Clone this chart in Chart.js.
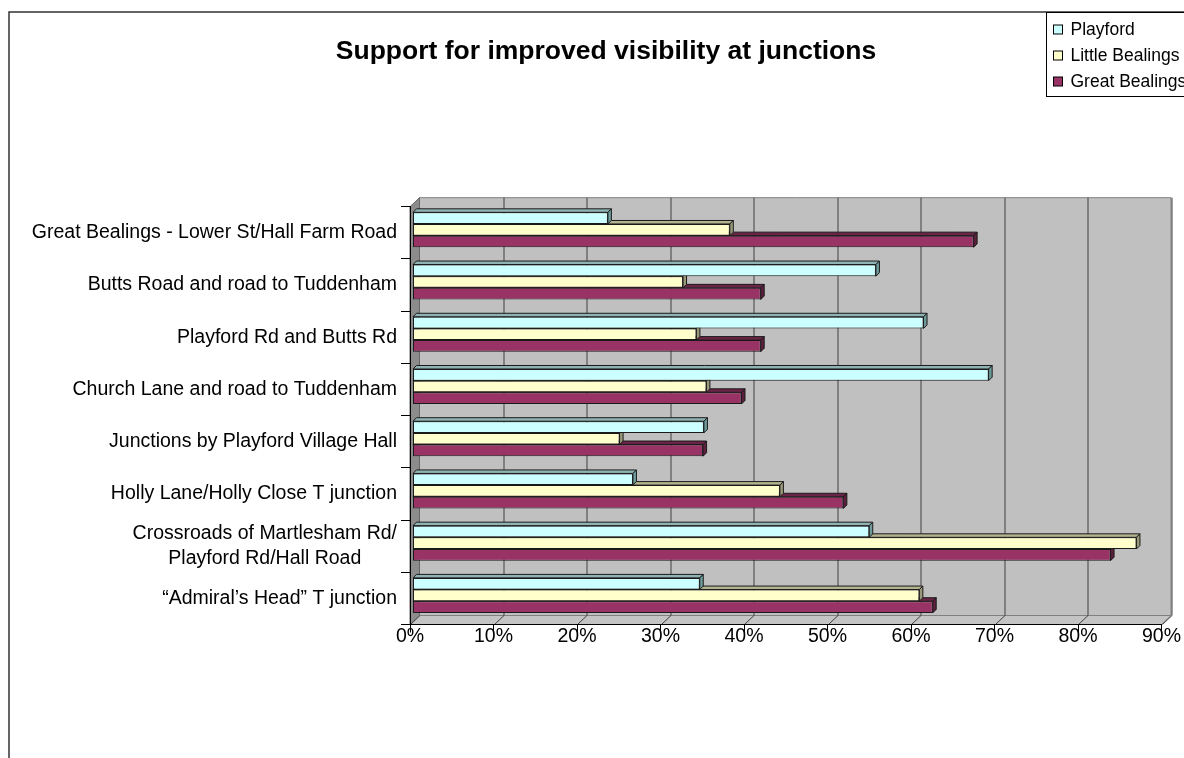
<!DOCTYPE html>
<html>
<head>
<meta charset="utf-8">
<title>Support for improved visibility at junctions</title>
<script src="https://cdn.jsdelivr.net/npm/chart.js@4.4.0/dist/chart.umd.min.js"></script>
<style>
  html, body { margin: 0; padding: 0; background: #fff; }
  #wrap { width: 1184px; height: 758px; }
</style>
</head>
<body>
<div id="wrap"><canvas id="junctions" width="1184" height="758"></canvas></div>
<script>
const junctions = [
  "Great Bealings - Lower St/Hall Farm Road",
  "Butts Road and road to Tuddenham",
  "Playford Rd and Butts Rd",
  "Church Lane and road to Tuddenham",
  "Junctions by Playford Village Hall",
  "Holly Lane/Holly Close T junction",
  ["Crossroads of Martlesham Rd/", "Playford Rd/Hall Road"],
  "\u201CAdmiral\u2019s Head\u201D T junction"
];
const playford       = [23.4, 55.5, 61.2, 69.0, 34.9, 26.4, 54.7, 34.4];
const littleBealings = [38.0, 32.4, 34.0, 35.2, 24.8, 44.0, 86.7, 60.7];
const greatBealings  = [67.2, 41.7, 41.7, 39.4, 34.8, 51.6, 83.6, 62.3];
const percentTicks   = [0, 10, 20, 30, 40, 50, 60, 70, 80, 90];

const FONT = "'Liberation Sans', Arial, sans-serif";

// depth of the 3-D box and of the bars
const WALL_DX = 9.5, WALL_DY = 9;
const BAR_DX = 2.5, BAR_DY = 3;
const BAR_D = 3.5;

// shaded faces (top, end) for each series
const topShade  = ["#8fb3b3", "#b3b38f", "#6b2447"];
const sideShade = ["#6f9b9b", "#99997a", "#5c1f3d"];

function poly(ctx, pts, fill, stroke) {
  ctx.beginPath();
  ctx.moveTo(pts[0][0], pts[0][1]);
  for (let i = 1; i < pts.length; i++) ctx.lineTo(pts[i][0], pts[i][1]);
  ctx.closePath();
  if (fill) { ctx.fillStyle = fill; ctx.fill(); }
  if (stroke) { ctx.strokeStyle = stroke; ctx.stroke(); }
}

const box3d = {
  id: "box3d",
  beforeDraw(chart) {
    const ctx = chart.ctx;
    const { left, right, top, bottom } = chart.chartArea;
    const xs = chart.scales.x;
    ctx.save();

    // frame of the whole chart
    ctx.strokeStyle = "#333";
    ctx.lineWidth = 1.5;
    ctx.beginPath();
    ctx.moveTo(9, chart.height);
    ctx.lineTo(9, 12);
    ctx.lineTo(chart.width, 12);
    ctx.stroke();

    // title
    ctx.fillStyle = "#000";
    ctx.font = "bold 26.5px " + FONT;
    ctx.textAlign = "center";
    ctx.textBaseline = "middle";
    ctx.fillText("Support for improved visibility at junctions", 606, 52);

    ctx.lineWidth = 1;
    // back wall
    poly(ctx, [[left + WALL_DX, top - WALL_DY], [right + WALL_DX, top - WALL_DY],
               [right + WALL_DX, bottom - WALL_DY], [left + WALL_DX, bottom - WALL_DY]], "#c0c0c0", "#808080");
    // side wall
    poly(ctx, [[left, top], [left + WALL_DX, top - WALL_DY],
               [left + WALL_DX, bottom - WALL_DY], [left, bottom]], "#8c8c8c", "#666");
    // floor
    poly(ctx, [[left, bottom], [left + WALL_DX, bottom - WALL_DY],
               [right + WALL_DX, bottom - WALL_DY], [right, bottom]], "#c4c4c4", "#808080");

    // gridlines on the back wall and their traces across the floor
    ctx.strokeStyle = "#404040";
    xs.ticks.forEach(t => {
      const px = Math.round(xs.getPixelForValue(t.value)) + 0.5;
      if (t.value > 0) {
        ctx.beginPath();
        ctx.moveTo(px + WALL_DX, top - WALL_DY);
        ctx.lineTo(px + WALL_DX, bottom - WALL_DY);
        ctx.stroke();
      }
      ctx.beginPath();
      ctx.moveTo(px, bottom);
      ctx.lineTo(px + WALL_DX, bottom - WALL_DY);
      ctx.stroke();
    });
    ctx.restore();
  },
  beforeDatasetsDraw(chart) {
    chart.ctx.save();
    chart.ctx.translate(BAR_DX, -BAR_DY);
  },
  beforeDatasetDraw(chart, args) {
    const ctx = chart.ctx;
    ctx.save();
    ctx.lineWidth = 1;
    args.meta.data.forEach(bar => {
      const { x, y, base, height } = bar.getProps(["x", "y", "base", "height"], true);
      const t = y - height / 2, b = y + height / 2;
      poly(ctx, [[base, t], [base + BAR_D, t - BAR_D], [x + BAR_D, t - BAR_D], [x, t]], topShade[args.index], "#1a1a1a");
      poly(ctx, [[x, t], [x + BAR_D, t - BAR_D], [x + BAR_D, b - BAR_D], [x, b]], sideShade[args.index], "#1a1a1a");
    });
    ctx.restore();
  },
  afterDatasetsDraw(chart) {
    chart.ctx.restore();
  },
  afterDraw(chart) {
    const ctx = chart.ctx;
    const ys = chart.scales.y;
    ctx.save();
    ctx.fillStyle = "#000";
    ctx.textBaseline = "middle";
    ctx.textAlign = "center";

    // category labels, block right-aligned, lines centred on each other
    ctx.font = "19.5px " + FONT;
    chart.data.labels.forEach((label, i) => {
      const lines = Array.isArray(label) ? label : [label];
      const w = Math.max(...lines.map(l => ctx.measureText(l).width));
      const cx = 397 - w / 2;
      const cy = ys.getPixelForValue(i);
      lines.forEach((l, k) => ctx.fillText(l, cx, cy + (k - (lines.length - 1) / 2) * 25));
    });

    // legend
    ctx.lineWidth = 1;
    ctx.strokeStyle = "#000";
    ctx.fillStyle = "#fff";
    ctx.fillRect(1046.5, 12.5, 160, 84);
    ctx.strokeRect(1046.5, 12.5, 160, 84);
    ctx.font = "17.5px " + FONT;
    ctx.textAlign = "left";
    chart.data.datasets.forEach((ds, i) => {
      const cy = 30 + i * 26;
      ctx.fillStyle = ds.backgroundColor;
      ctx.fillRect(1053.5, cy - 5, 9, 9);
      ctx.strokeRect(1053.5, cy - 5, 9, 9);
      ctx.fillStyle = "#000";
      ctx.fillText(ds.label, 1070.5, cy);
    });
    ctx.restore();
  }
};

new Chart(document.getElementById("junctions"), {
  type: "bar",
  data: {
    labels: junctions,
    datasets: [
      { label: "Playford", data: playford, backgroundColor: "#ccffff" },
      { label: "Little Bealings", data: littleBealings, backgroundColor: "#ffffcc" },
      { label: "Great Bealings", data: greatBealings, backgroundColor: "#993366" }
    ]
  },
  options: {
    responsive: false,
    animation: false,
    indexAxis: "y",
    layout: { padding: { top: 206.7, left: 0, right: 22.5, bottom: 103.5 } },
    datasets: {
      bar: {
        borderColor: "#1a1a1a",
        borderWidth: 1,
        borderSkipped: false,
        categoryPercentage: 0.67,
        barPercentage: 1,
        clip: false
      }
    },
    plugins: {
      legend: { display: false },
      title: { display: false },
      tooltip: { enabled: false }
    },
    scales: {
      x: {
        min: 0,
        max: 90,
        afterBuildTicks: s => { s.ticks = percentTicks.map(v => ({ value: v })); },
        afterFit: s => { s.height = 30; },
        grid: { drawOnChartArea: false, drawTicks: true, tickLength: 8, color: "#000" },
        border: { color: "#000", width: 1 },
        ticks: {
          padding: -8,
          color: "#000",
          font: { family: FONT, size: 19.5 },
          maxRotation: 0,
          callback: v => v + "%"
        }
      },
      y: {
        afterFit: s => { s.width = 410; },
        grid: { drawOnChartArea: false, offset: true, tickLength: 9, color: "#000" },
        border: { color: "#000", width: 1 },
        ticks: { display: false }
      }
    }
  },
  plugins: [box3d]
});
</script>
</body>
</html>
